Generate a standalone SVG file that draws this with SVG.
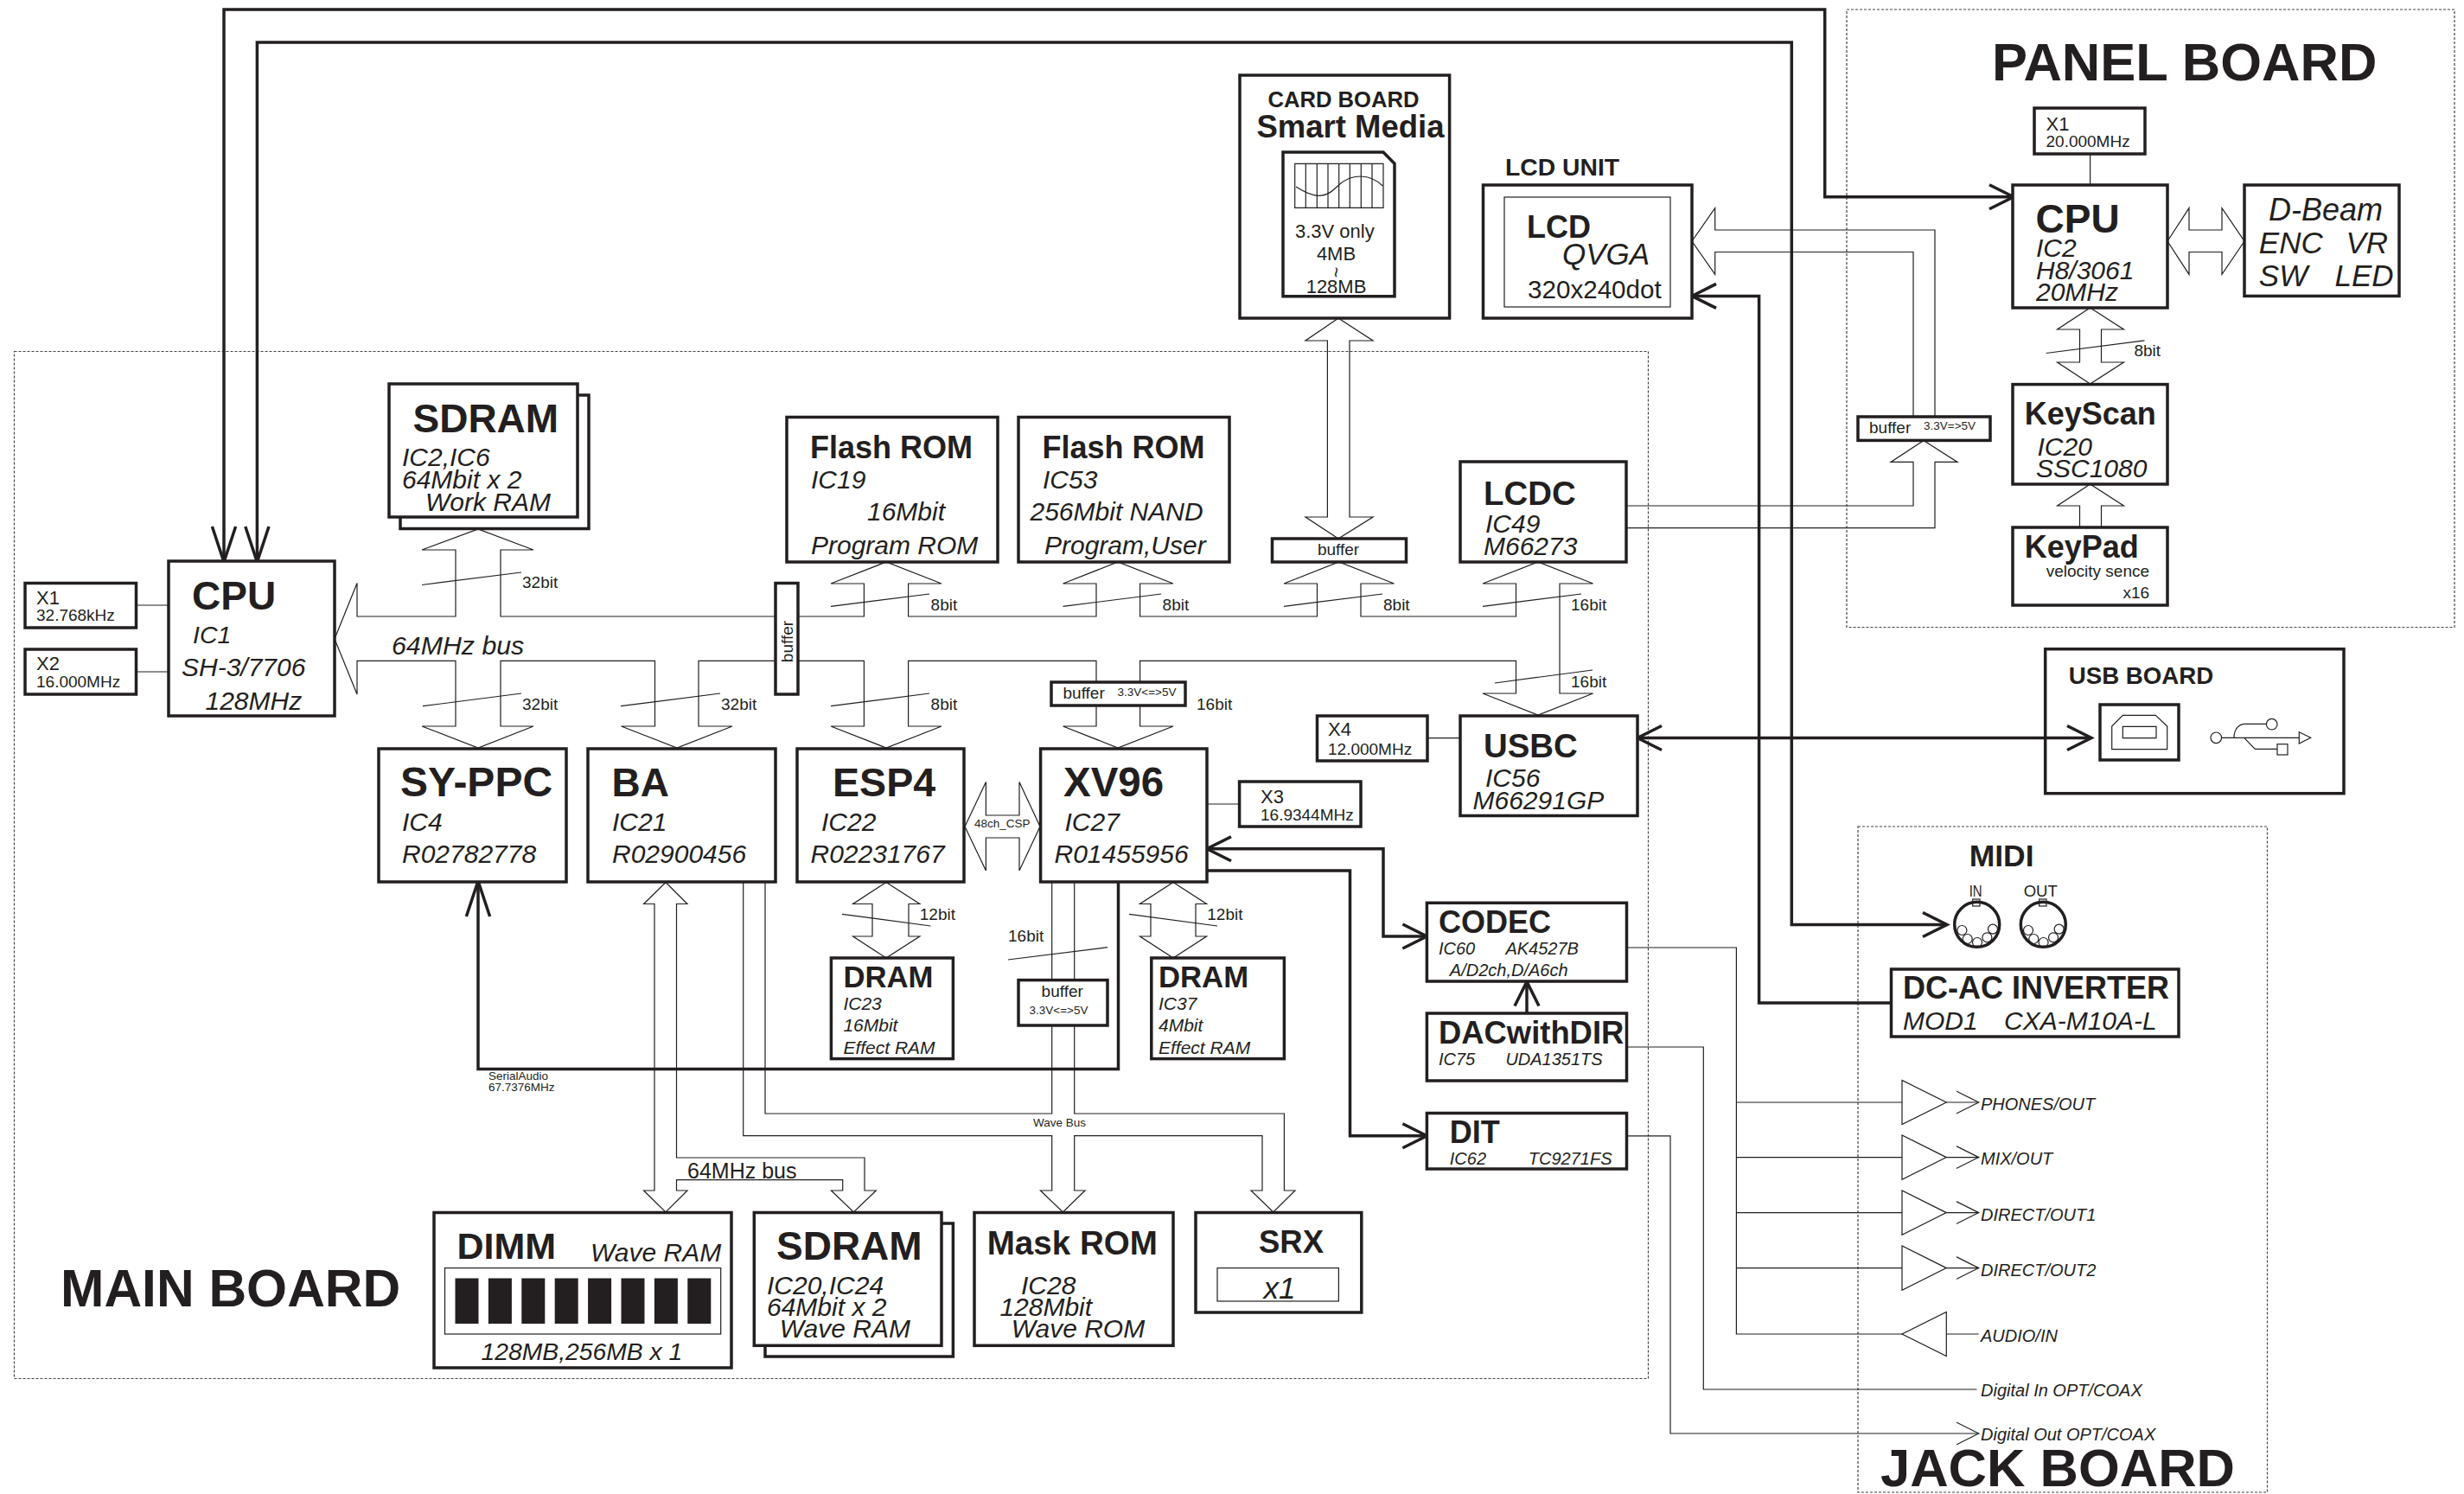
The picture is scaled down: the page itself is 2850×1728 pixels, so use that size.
<svg xmlns="http://www.w3.org/2000/svg" width="2850" height="1728" viewBox="0 0 2850 1728">
<style>
text{font-family:"Liberation Sans",Arial,sans-serif;fill:#231f20}
.b{font-weight:bold}
.i{font-style:italic}
.box{fill:#fff;stroke:#231f20;stroke-width:3.5;stroke-linejoin:miter}
.open{fill:none;stroke:#231f20;stroke-width:3.5}
.t{fill:none;stroke:#231f20;stroke-width:1.2}
.th{fill:none;stroke:#231f20;stroke-width:3.5;stroke-linejoin:miter}
.d{fill:none;stroke:#444;stroke-width:1.2;stroke-dasharray:3 2}
.s14{font-size:13.5px}.s19{font-size:19px}.s20{font-size:20px}.s21{font-size:21px}.s22{font-size:22px}
.s25{font-size:25px}.s26{font-size:25.6px}.s28{font-size:28.3px}.s30{font-size:30px}.s35{font-size:35.5px}
.s36{font-size:36px}.s38{font-size:38.4px}.s46{font-size:46px}.s62{font-size:61.5px}
</style>
<defs>
<marker id="h28" markerUnits="userSpaceOnUse" markerWidth="34" markerHeight="34" refX="29" refY="16" orient="auto-start-reverse" viewBox="0 0 34 34"><path d="M1,2 L29,16 L1,30" fill="none" stroke="#231f20" stroke-width="3.5"/></marker>
<marker id="h41" markerUnits="userSpaceOnUse" markerWidth="46" markerHeight="34" refX="42" refY="16" orient="auto" viewBox="0 0 46 34"><path d="M1,2.4 L42,16 L1,29.6" fill="none" stroke="#231f20" stroke-width="3.5"/></marker>
<marker id="ht" markerUnits="userSpaceOnUse" markerWidth="30" markerHeight="30" refX="26" refY="14" orient="auto" viewBox="0 0 30 30"><path d="M0,1 L26,14 L0,27" fill="none" stroke="#231f20" stroke-width="1.2"/></marker>
</defs>
<rect width="2850" height="1728" fill="#fff"/>

<g id="boards">
<g id="main-board"><rect class="d" x="16.5" y="406.5" width="1890" height="1188"/><text class="b" x="70" y="1510.5" font-size="60.5">MAIN BOARD</text></g>
<g id="panel-board"><rect class="d" x="2136" y="11" width="703" height="714.5"/><text class="b s62" x="2304" y="92.5">PANEL BOARD</text></g>
<g id="jack-board"><rect class="d" x="2149" y="956" width="473.5" height="770"/><text class="b s62" x="2175" y="1719">JACK BOARD</text></g>
</g>

<g id="usb-board"><rect class="open" x="2365.7" y="750.7" width="345.3" height="167"/><text class="b" font-size="27.7" x="2392.7" y="791">USB BOARD</text><rect class="open" x="2429" y="815" width="91" height="64"/>
<path class="t" d="M2442.7,866.7 V840 L2455.3,827.3 H2493.3 L2506.7,840 V866.7 Z M2455.3,840.3 H2494 V853.7 H2455.3 Z"/>
<circle class="t" cx="2563.3" cy="853.3" r="6.3"/><path class="t" d="M2569.6,853.3 H2659.3 M2659.3,846.7 L2672.7,853.3 L2659.3,860 Z M2584,853.3 C2584,843 2590,837.3 2596.7,837.3 H2621.4 M2595.7,853.3 L2608.3,866.3 H2634"/><circle class="t" cx="2627.7" cy="837.7" r="6.3"/><rect class="t" x="2634" y="860.7" width="12" height="12.3"/></g>

<g id="connectors">
<path class="t" d="M387,739 L413,674.5 V713 H527 V636 H488 L553,612 L617,636 H579 V713 H897"/>
<path class="t" d="M387,739 L413,803 V764.4 H527 V840 H488 L553,865 L617,840 H579 V764.4 H757.5 V840 H718.6 L783,865 L847,840 H808 V764.4 H897"/>
<path class="t" d="M923,713 H999.4 V675 H961 L1025,650 L1089,675 H1050.6 V713 H1268 V675 H1229.5 L1293,650 L1357,675 H1318.6 V713 H1523.5 V675 H1485 L1548.7,650 L1612.5,675 H1574 V713 H1753.5 V675 H1715 L1779,650 L1842.6,675 H1804 V802 H1842.6 L1779,827 L1715,802 H1753.5 V764.4 H1318.6 V840 H1357 L1293,865 L1229.5,840 H1268 V764.4 H1050.6 V840 H1089 L1025,865 L961,840 H999.4 V764.4 H923"/>
<path class="t" d="M1548,368 L1588,394 H1561 V598 H1588 L1548,623 L1510,598 H1535.4 V394 H1510 Z"/>
<path class="t" d="M2213,482 V291.5 H1983.7 V317.4 L1957,279 L1983.7,240.6 V266 H2238 V482"/>
<path class="t" d="M1881,585 H2213 V534.4 H2187 L2225,509.4 L2264,534.4 H2238 V610.7 H1881"/>
<path class="t" d="M2507,279 L2532,240.6 V266 H2570 V240.6 L2596,279 L2570,317.4 V291.5 H2532 V317.4 Z"/>
<path class="t" d="M2417.6,356 L2456.4,381 H2430.5 V419 H2456.4 L2417.6,444 L2379.6,419 H2405.5 V381 H2379.6 Z"/>
<path class="t" d="M2405.5,610 V585 H2379.6 L2417.6,560 L2456.4,585 H2430.5 V610"/>
<path class="t" d="M1116,956 L1140.4,904.5 V943 H1179 V904.5 L1203,956 L1179,1007 V969 H1140.4 V1007 Z"/>
<path class="t" d="M1025,1020.5 L1063.8,1045.5 H1051 V1083 H1063.8 L1025,1108 L986.6,1083 H1009 V1045.5 H986.6 Z"/>
<path class="t" d="M1357,1020.5 L1395.6,1045.5 H1383 V1083 H1395.6 L1357,1108 L1318.5,1083 H1331 V1045.5 H1318.5 Z"/>
<path class="t" d="M770,1020.5 L795,1045.5 H782.5 V1339 H1000 V1377 H1013.3 L987.4,1402 L961.4,1377 H974.7 V1364.6 H782.5 V1377 H795 L770,1402 L744.6,1377 H757 V1045.5 H744.6 Z"/>
<path class="t" d="M885,1020 V1288 H1216.7 V1020"/>
<path class="t" d="M859.7,1020 V1313.6 H1216.7 V1377 H1203.4 L1229.4,1402 L1255,1377 H1242.7 V1313.6 H1460 V1377 H1447 L1472.8,1402 L1498,1377 H1485.4 V1288 H1242.7 V1020"/>
<path class="t" d="M158,700 H195 M158,777 H195 M1651,853.6 H1689 M1396,930 H1433.6 M2417.6,178 V214"/>
<path class="t" d="M1881.5,1096 H2008.4 V1543 H2200 M2008.4,1275 H2200 M2008.4,1338.6 H2200 M2008.4,1402.6 H2200 M2008.4,1466.6 H2200"/>
<path class="t" d="M1881.5,1211 H1970.3 V1607 H2286.5"/>
<path class="t" d="M1881.5,1313.8 H1932 V1658 H2288.7" marker-end="url(#ht)"/>
<path class="t" d="M2200,1249.4 V1300.6 L2251.3,1275 Z M2200,1313 V1364.2 L2251.3,1338.6 Z M2200,1377 V1428.2 L2251.3,1402.6 Z M2200,1441 V1492.2 L2251.3,1466.6 Z M2251.3,1517.4 V1568.6 L2200,1543 Z"/>
<path class="t" d="M2251.3,1275 H2288.7" marker-end="url(#ht)"/>
<path class="t" d="M2251.3,1338.6 H2288.7" marker-end="url(#ht)"/>
<path class="t" d="M2251.3,1402.6 H2288.7" marker-end="url(#ht)"/>
<path class="t" d="M2251.3,1466.6 H2288.7" marker-end="url(#ht)"/>
<path class="t" d="M2251.3,1543 H2288.7"/>
<path class="t" d="M488,676.5 L603,662 M489,816.7 L603,802 M718,816.7 L833,802 M961,701.4 L1075,687 M1229.5,701.4 L1343,687 M1485,701.4 L1599,687 M1715,701.4 L1829,687 M961,816.7 L1075,802 M1729,790 L1842,775 M974,1057.3 L1076.4,1071 M1306,1057.3 L1408,1071 M1166,1110 L1281,1095.7 M2366.7,408.5 L2480.5,393.8"/>
<path class="th" d="M2329,227.7 H2110.7 V11 H259 V650" marker-start="url(#h28)" marker-end="url(#h41)"/>
<path class="th" d="M2252,1069.5 H2072.3 V49 H297.4 V650" marker-start="url(#h28)" marker-end="url(#h41)"/>
<path class="th" d="M1957,342.4 H2034.6 V1160 H2187.5" marker-start="url(#h28)"/>
<path class="th" d="M1894,853.5 H2419" marker-start="url(#h28)" marker-end="url(#h28)"/>
<path class="th" d="M1396,981.7 H1600 V1083 H1650.4" marker-start="url(#h28)" marker-end="url(#h28)"/>
<path class="th" d="M1396,1007 H1561.5 V1313.8 H1650.4" marker-end="url(#h28)"/>
<path class="th" d="M1293.5,1020 V1236.5 H553 V1019" marker-end="url(#h41)"/>
<path class="th" d="M1766,1172 V1135.5" marker-end="url(#h28)"/>
<text class="s19" x="604" y="680">32bit</text>
<text class="s19" x="604" y="821">32bit</text>
<text class="s19" x="834" y="821">32bit</text>
<text class="s19" x="1076.6" y="706">8bit</text>
<text class="s19" x="1344.6" y="706">8bit</text>
<text class="s19" x="1600" y="706">8bit</text>
<text class="s19" x="1817" y="706">16bit</text>
<text class="s19" x="1076.6" y="821">8bit</text>
<text class="s19" x="1384" y="821">16bit</text>
<text class="s19" x="1817" y="795">16bit</text>
<text class="s19" x="1063.8" y="1064">12bit</text>
<text class="s19" x="1396.3" y="1064">12bit</text>
<text class="s19" x="1166" y="1089">16bit</text>
<text class="s19" x="2468.4" y="412">8bit</text>
<text class="i" font-size="30.3" x="453" y="756.5">64MHz bus</text>
<text class="s25" x="795" y="1362.6">64MHz bus</text>
<text class="s14" x="1195" y="1302.5">Wave Bus</text>
<text class="s14" x="1127" y="957">48ch_CSP</text>
<text class="s14" x="565" y="1249">SerialAudio</text>
<text class="s14" x="565" y="1262">67.7376MHz</text>
<text class="i s20" x="2291" y="1283.5">PHONES/OUT</text>
<text class="i s20" x="2291" y="1347">MIX/OUT</text>
<text class="i s20" x="2291" y="1411.5">DIRECT/OUT1</text>
<text class="i s20" x="2291" y="1475.6">DIRECT/OUT2</text>
<text class="i s20" x="2291" y="1551.5">AUDIO/IN</text>
<text class="i s20" x="2291" y="1615">Digital In OPT/COAX</text>
<text class="i s20" x="2291" y="1665.6">Digital Out OPT/COAX</text>
</g>

<g id="cpu-main"><rect class="box" x="195" y="649" width="192" height="179"/><text class="b s46" x="222" y="705">CPU</text><text class="i" font-size="28.5" x="223" y="744">IC1</text><text class="i s30" x="210" y="781.5">SH-3/7706</text><text class="i s30" x="237.5" y="821">128MHz</text></g>
<g id="x1-main"><rect class="box" x="29" y="674.5" width="128.5" height="51.5"/><text class="s22" x="42" y="699">X1</text><text class="s19" x="42" y="718">32.768kHz</text></g>
<g id="x2-main"><rect class="box" x="29" y="751" width="128.5" height="52"/><text class="s22" x="42" y="775">X2</text><text class="s19" x="42" y="795">16.000MHz</text></g>
<g id="sdram-work"><path class="open" d="M463,598 V611.5 H681 V457 H668"/><rect class="box" x="450" y="444" width="218" height="154"/><text class="b s46" x="477.5" y="499.5">SDRAM</text><text class="i s30" x="465" y="539">IC2,IC6</text><text class="i s30" x="465" y="565">64Mbit x 2</text><text class="i s30" x="492" y="591">Work RAM</text></g>
<g id="sy-ppc"><rect class="box" x="438" y="866" width="217" height="154"/><text class="b" font-size="48" x="463" y="921">SY-PPC</text><text class="i s30" x="465" y="960.5">IC4</text><text class="i s30" x="465" y="998">R02782778</text></g>
<g id="ba"><rect class="box" x="680" y="866" width="217" height="154"/><text class="b s46" x="707.5" y="921">BA</text><text class="i s30" x="708" y="960.5">IC21</text><text class="i s30" x="708" y="998">R02900456</text></g>
<g id="buffer-bus"><rect class="box" x="897" y="674.5" width="26" height="128.5"/><text class="s19" text-anchor="middle" transform="translate(916.5,742) rotate(-90)">buffer</text></g>
<g id="flash-rom-1"><rect class="box" x="910" y="482.5" width="244" height="167.5"/><text class="b s36" x="937" y="530">Flash ROM</text><text class="i s30" x="938" y="564.5">IC19</text><text class="i s30" x="1003" y="602">16Mbit</text><text class="i s30" x="938" y="640.5">Program ROM</text></g>
<g id="flash-rom-2"><rect class="box" x="1178" y="482.5" width="244" height="167.5"/><text class="b s36" x="1205.5" y="530">Flash ROM</text><text class="i s30" x="1206" y="564.5">IC53</text><text class="i s30" x="1191.5" y="602">256Mbit NAND</text><text class="i s30" x="1208" y="640.5">Program,User</text></g>
<g id="lcdc"><rect class="box" x="1689" y="534" width="192" height="116"/><text class="b s38" x="1716" y="583.7">LCDC</text><text class="i s30" x="1718" y="615.5">IC49</text><text class="i s30" x="1716" y="641.7">M66273</text></g>
<g id="buffer-card"><rect class="box" x="1471.5" y="623" width="155" height="27"/><text class="s19" text-anchor="middle" x="1548" y="642">buffer</text></g>
<g id="buffer-xv96"><rect class="box" x="1216" y="789" width="155" height="27"/><text class="s19" x="1229.5" y="807.5">buffer</text><text class="s14" x="1292.5" y="804.5">3.3V&lt;=&gt;5V</text></g>
<g id="esp4"><rect class="box" x="922" y="866" width="193" height="154"/><text class="b" font-size="46.6" x="963" y="921">ESP4</text><text class="i s30" x="950" y="960.5">IC22</text><text class="i s30" x="937.5" y="998">R02231767</text></g>
<g id="xv96"><rect class="box" x="1203.6" y="866" width="192.4" height="154"/><text class="b" font-size="47.5" x="1230" y="921">XV96</text><text class="i s30" x="1231.5" y="960.5">IC27</text><text class="i s30" x="1219.5" y="998">R01455956</text></g>
<g id="usbc"><rect class="box" x="1689" y="828" width="205" height="115.5"/><text class="b s38" x="1716" y="876">USBC</text><text class="i s30" x="1718" y="910">IC56</text><text class="i s30" x="1703.5" y="936">M66291GP</text></g>
<g id="x4"><rect class="box" x="1523.5" y="828" width="127.5" height="52"/><text class="s22" x="1536" y="851">X4</text><text class="s19" x="1536" y="872.5">12.000MHz</text></g>
<g id="x3"><rect class="box" x="1433.6" y="904" width="140.4" height="52"/><text class="s22" x="1458" y="929">X3</text><text class="s19" x="1458" y="949">16.9344MHz</text></g>
<g id="dram-1"><rect class="box" x="961.4" y="1108" width="141" height="116.6"/><text class="b" font-size="34.7" x="975.4" y="1142">DRAM</text><text class="i s21" x="975.4" y="1168">IC23</text><text class="i s21" x="975.4" y="1193">16Mbit</text><text class="i s21" x="975.4" y="1218.7">Effect RAM</text></g>
<g id="dram-2"><rect class="box" x="1331.8" y="1108" width="153.6" height="116.6"/><text class="b" font-size="34.7" x="1340" y="1142">DRAM</text><text class="i s21" x="1340" y="1168">IC37</text><text class="i s21" x="1340" y="1193">4Mbit</text><text class="i s21" x="1340" y="1218.7">Effect RAM</text></g>
<g id="buffer-wave"><rect class="box" x="1178" y="1133.6" width="103" height="52.4"/><text class="s19" text-anchor="middle" x="1228.7" y="1153">buffer</text><text class="s14" text-anchor="middle" x="1224.5" y="1173">3.3V&lt;=&gt;5V</text></g>
<g id="dimm"><rect class="box" x="502" y="1402.5" width="344" height="179.5"/><rect class="t" x="514.5" y="1466.6" width="319.2" height="76.4"/>
<g fill="#231f20"><rect x="526.5" y="1478.5" width="27" height="52.5"/><rect x="564.9" y="1478.5" width="27" height="52.5"/><rect x="603.3" y="1478.5" width="27" height="52.5"/><rect x="641.7" y="1478.5" width="27" height="52.5"/><rect x="680.1" y="1478.5" width="27" height="52.5"/><rect x="718.5" y="1478.5" width="27" height="52.5"/><rect x="756.9" y="1478.5" width="27" height="52.5"/><rect x="795.3" y="1478.5" width="27" height="52.5"/></g>
<text class="b" font-size="43" x="528.5" y="1456">DIMM</text><text class="i s30" x="683" y="1458.7">Wave RAM</text><text class="i s28" x="556.5" y="1573">128MB,256MB x 1</text></g>
<g id="sdram-wave"><path class="open" d="M885,1556.3 V1569 H1102.4 V1415 H1089"/><rect class="box" x="872.3" y="1402.5" width="216.7" height="153.8"/><text class="b s46" x="898" y="1456.7">SDRAM</text><text class="i s30" x="887" y="1496.6">IC20,IC24</text><text class="i s30" x="887" y="1522">64Mbit x 2</text><text class="i s30" x="901.8" y="1547">Wave RAM</text></g>
<g id="mask-rom"><rect class="box" x="1127" y="1402.5" width="230" height="153.8"/><text class="b" font-size="38.6" x="1141.7" y="1450.8">Mask ROM</text><text class="i s30" x="1181" y="1496.6">IC28</text><text class="i s30" x="1156.4" y="1522">128Mbit</text><text class="i s30" x="1169.7" y="1547">Wave ROM</text></g>
<g id="srx"><rect class="box" x="1383" y="1402.5" width="191.8" height="115.5"/><rect class="t" x="1408" y="1466.6" width="140.4" height="38.4"/><text class="b" font-size="36.5" x="1456" y="1448.8">SRX</text><text class="i" font-size="35" text-anchor="middle" x="1480" y="1502">x1</text></g>
<g id="card-board"><rect class="box" x="1434" y="87" width="242.6" height="281"/><text class="b s26" x="1466.5" y="123.5">CARD BOARD</text><text class="b" font-size="36.5" x="1453.5" y="159">Smart Media</text>
<path class="th" d="M1484,176 H1600 L1613,189.3 V342.7 H1484 Z"/>
<path class="t" d="M1497.7,189.3 H1600 V240.3 H1497.7 Z M1510.3,189.3 V240.3 M1523.3,189.3 V240.3 M1536,189.3 V240.3 M1548.7,189.3 V240.3 M1561.3,189.3 V240.3 M1574.3,189.3 V240.3 M1587,189.3 V240.3"/>
<path class="t" d="M1499,216 C1510,223 1518,226.3 1525,226.3 C1537,226.3 1543,219 1549.3,213.3 C1556,207.5 1565,204 1574,204 C1585,204 1593,209 1599.3,215"/>
<text class="s22" x="1498" y="275.4">3.3V only</text><text class="s22" text-anchor="middle" x="1545.5" y="301">4MB</text><text class="s22" text-anchor="middle" transform="translate(1538,315) rotate(90)">~</text><text class="s22" text-anchor="middle" x="1545.5" y="339">128MB</text></g>
<g id="lcd-unit"><text class="b s28" x="1741" y="203">LCD UNIT</text><rect class="box" x="1715.5" y="214" width="241.5" height="154"/><rect class="t" x="1740" y="228" width="192" height="127"/><text class="b s36" x="1766" y="274.5">LCD</text><text class="i" font-size="35" x="1807" y="306">QVGA</text><text font-size="29.6" x="1767" y="345">320x240dot</text></g>
<g id="buffer-lcd"><rect class="box" x="2149" y="482" width="153" height="27.4"/><text class="s19" x="2162" y="500.5">buffer</text><text class="s14" x="2225" y="496.5">3.3V=&gt;5V</text></g>
<g id="x1-panel"><rect class="box" x="2353" y="125" width="128" height="53"/><text class="s22" x="2366.5" y="150.5">X1</text><text class="s19" x="2366.5" y="169.5">20.000MHz</text></g>
<g id="cpu-panel"><rect class="box" x="2328" y="214" width="179" height="142"/><text class="b s46" x="2354.5" y="268.8">CPU</text><text class="i s30" x="2355" y="297">IC2</text><text class="i s30" x="2355" y="323">H8/3061</text><text class="i s30" x="2355" y="348">20MHz</text></g>
<g id="d-beam"><rect class="box" x="2596" y="214" width="179" height="128.4"/><text class="i s36" x="2624" y="254.5">D-Beam</text><text class="i" font-size="35" x="2612.8" y="293">ENC</text><text class="i" font-size="35" x="2713.5" y="293">VR</text><text class="i" font-size="35" x="2612.8" y="331">SW</text><text class="i" font-size="35" x="2700.5" y="331">LED</text></g>
<g id="keyscan"><rect class="box" x="2328" y="444.6" width="179" height="115.4"/><text class="b s36" x="2341.7" y="491">KeyScan</text><text class="i s30" x="2356.5" y="527">IC20</text><text class="i s30" x="2355" y="552">SSC1080</text></g>
<g id="keypad"><rect class="box" x="2328" y="610" width="179" height="90"/><text class="b s36" x="2341.7" y="644.6">KeyPad</text><text class="s19" x="2366.7" y="667.4">velocity sence</text><text class="s19" x="2455.5" y="692">x16</text></g>
<g id="midi"><text class="b s35" x="2277.7" y="1002">MIDI</text><text font-size="19" x="2277.7" y="1037.3" textLength="15" lengthAdjust="spacingAndGlyphs">IN</text><text font-size="18.5" x="2340.7" y="1037.3">OUT</text>
<g class="t"><rect x="2281.7" y="1040" width="8.3" height="8"/><rect x="2358.7" y="1040" width="8.3" height="8"/>
<circle cx="2269.4" cy="1076" r="5.5"/><circle cx="2275.7" cy="1086" r="5.5"/><circle cx="2287" cy="1090" r="5.5"/><circle cx="2298.4" cy="1084.3" r="5.5"/><circle cx="2305" cy="1074.6" r="5.5"/>
<circle cx="2346" cy="1076" r="5.5"/><circle cx="2352.3" cy="1086" r="5.5"/><circle cx="2363.6" cy="1090" r="5.5"/><circle cx="2375" cy="1084.3" r="5.5"/><circle cx="2381.6" cy="1074.6" r="5.5"/></g>
<circle class="th" cx="2286.7" cy="1069.3" r="26"/><circle class="th" cx="2363.3" cy="1069.3" r="26"/></g>
<g id="dc-ac"><rect class="box" x="2187.5" y="1121" width="332.5" height="78"/><text class="b" font-size="36" x="2201" y="1155">DC-AC INVERTER</text><text class="i s30" x="2201" y="1190.7">MOD1</text><text class="i s30" x="2318" y="1190.7">CXA-M10A-L</text></g>
<g id="codec"><rect class="box" x="1650.4" y="1044.3" width="231.1" height="90.7"/><text class="b s36" x="1664" y="1079">CODEC</text><text class="i s20" x="1664" y="1103.8">IC60</text><text class="i s20" x="1741.4" y="1103.8">AK4527B</text><text class="i s20" x="1676.8" y="1129">A/D2ch,D/A6ch</text></g>
<g id="dac-with-dir"><rect class="box" x="1650.4" y="1172" width="231.1" height="78"/><text class="b" font-size="36.4" x="1664" y="1206.6">DACwithDIR</text><text class="i s20" x="1664" y="1232">IC75</text><text class="i s20" x="1741.4" y="1232">UDA1351TS</text></g>
<g id="dit"><rect class="box" x="1650.4" y="1287.5" width="231.1" height="64.5"/><text class="b s36" x="1676.8" y="1322">DIT</text><text class="i s20" x="1676.8" y="1347">IC62</text><text class="i s20" x="1767.8" y="1347">TC9271FS</text></g>
</svg>
